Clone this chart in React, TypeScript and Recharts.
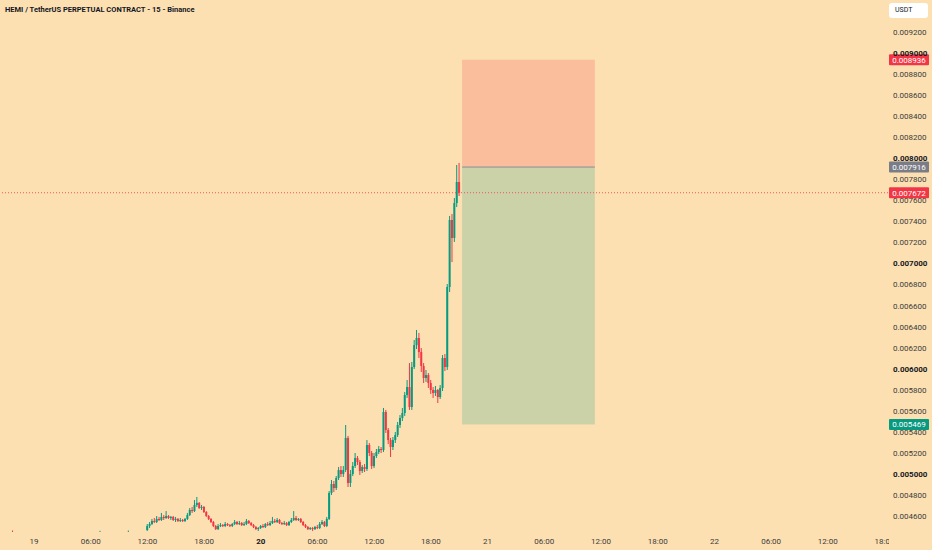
import React from "react";
import { Bar, ComposedChart, ReferenceArea, ReferenceLine, XAxis, YAxis } from "recharts";

// 15m candles from 19th 12:00, prices in millionths of USDT: [open, high, low, close]
const CANDLES: number[][] = [
  [4466, 4523, 4456, 4504], [4504, 4542, 4485, 4523], [4523, 4571, 4513, 4552], [4552, 4580, 4532, 4542],
  [4542, 4599, 4532, 4571], [4571, 4590, 4552, 4561], [4561, 4628, 4552, 4590], [4590, 4608, 4561, 4580],
  [4580, 4646, 4571, 4599], [4599, 4608, 4571, 4580], [4580, 4599, 4561, 4590], [4590, 4599, 4552, 4561],
  [4561, 4590, 4542, 4571], [4571, 4580, 4542, 4552], [4552, 4580, 4542, 4561], [4561, 4571, 4542, 4552],
  [4552, 4580, 4542, 4571], [4571, 4628, 4561, 4608], [4608, 4675, 4599, 4656], [4656, 4685, 4628, 4646],
  [4646, 4751, 4637, 4704], [4704, 4780, 4685, 4723], [4723, 4732, 4666, 4675], [4675, 4704, 4656, 4685],
  [4685, 4694, 4628, 4637], [4637, 4646, 4590, 4599], [4599, 4608, 4561, 4571], [4571, 4580, 4532, 4542],
  [4542, 4552, 4494, 4504], [4504, 4513, 4466, 4475], [4475, 4523, 4466, 4504], [4504, 4532, 4494, 4513],
  [4513, 4523, 4494, 4504], [4504, 4542, 4494, 4523], [4523, 4532, 4504, 4513], [4513, 4523, 4494, 4504],
  [4504, 4532, 4494, 4523], [4523, 4561, 4513, 4542], [4542, 4552, 4513, 4523], [4523, 4552, 4513, 4532],
  [4532, 4542, 4504, 4513], [4513, 4542, 4504, 4523], [4523, 4571, 4513, 4552], [4552, 4561, 4523, 4532],
  [4532, 4542, 4504, 4513], [4513, 4523, 4485, 4494], [4494, 4504, 4466, 4475], [4475, 4494, 4456, 4485],
  [4485, 4513, 4475, 4504], [4504, 4523, 4485, 4494], [4494, 4532, 4485, 4523], [4523, 4542, 4504, 4513],
  [4513, 4552, 4504, 4532], [4532, 4590, 4523, 4552], [4552, 4571, 4532, 4542], [4542, 4580, 4532, 4561],
  [4561, 4571, 4523, 4532], [4532, 4542, 4513, 4523], [4523, 4552, 4513, 4532], [4532, 4542, 4504, 4513],
  [4513, 4552, 4504, 4542], [4542, 4580, 4532, 4561], [4561, 4646, 4552, 4580], [4580, 4599, 4552, 4561],
  [4561, 4580, 4552, 4571], [4571, 4580, 4532, 4542], [4542, 4552, 4504, 4513], [4513, 4523, 4485, 4494],
  [4494, 4504, 4466, 4475], [4475, 4494, 4466, 4485], [4485, 4494, 4456, 4475], [4475, 4504, 4466, 4494],
  [4494, 4513, 4475, 4485], [4485, 4542, 4475, 4523], [4523, 4561, 4513, 4542], [4542, 4552, 4494, 4504],
  [4504, 4590, 4494, 4571], [4571, 4837, 4561, 4818], [4818, 4941, 4799, 4903], [4903, 4932, 4827, 4865],
  [4865, 4979, 4846, 4960], [4960, 5065, 4941, 5036], [5036, 5074, 4970, 4998], [4998, 5074, 4970, 5036],
  [5036, 5464, 5017, 5341], [5341, 5360, 4875, 4913], [4913, 5036, 4875, 4998], [4998, 5112, 4979, 5074],
  [5074, 5198, 5055, 5150], [5150, 5169, 5084, 5112], [5112, 5131, 4989, 5027], [5027, 5084, 5008, 5065],
  [5065, 5093, 5017, 5046], [5046, 5321, 5027, 5274], [5274, 5293, 5169, 5198], [5198, 5217, 5046, 5074],
  [5074, 5198, 5055, 5169], [5169, 5236, 5150, 5207], [5207, 5264, 5188, 5236], [5236, 5255, 5198, 5226],
  [5226, 5626, 5207, 5588], [5588, 5607, 5388, 5417], [5417, 5436, 5283, 5321], [5321, 5341, 5160, 5255],
  [5255, 5350, 5226, 5321], [5321, 5398, 5293, 5369], [5369, 5493, 5350, 5464], [5464, 5559, 5436, 5531],
  [5531, 5626, 5502, 5578], [5578, 5778, 5550, 5749], [5749, 5892, 5721, 5825], [5825, 6053, 5607, 5635],
  [5635, 6063, 5607, 6015], [6015, 6272, 5996, 6224], [6224, 6367, 6186, 6291], [6291, 6339, 6101, 6158],
  [6158, 6196, 5968, 6025], [6025, 6053, 5863, 5911], [5911, 5987, 5873, 5939], [5939, 5958, 5816, 5863],
  [5863, 5892, 5759, 5797], [5797, 5825, 5721, 5768], [5768, 5835, 5740, 5797], [5797, 5806, 5673, 5730],
  [5730, 5844, 5711, 5816], [5816, 6129, 5787, 6101], [6101, 6139, 5977, 6015], [6015, 6804, 5987, 6776],
  [6776, 7451, 6728, 7413], [7413, 7470, 7013, 7242], [7242, 7622, 7204, 7574], [7574, 7936, 7536, 7774],
  [7774, 7955, 7641, 7672],
];
const FIRST_HOUR = 12; // hours since 19th 00:00
const STEP = 0.25;

// a few earlier candles whose tops just reach the bottom edge
const EARLY_HOURS = [-2.25, 7, 10];
const EARLY_CANDLES: number[][] = [
  [4440, 4462, 4400, 4425],
  [4430, 4458, 4410, 4440],
  [4425, 4461, 4405, 4445],
];

const X_TICKS = [0, 6, 12, 18, 24, 30, 36, 42, 48, 54, 60, 66, 72, 78, 84, 90];
const X_LABELS = ["19", "06:00", "12:00", "18:00", "20", "06:00", "12:00", "18:00", "21", "06:00", "12:00", "18:00", "22", "06:00", "12:00", "18:00"];
const X_BOLD = ["20"];

const Y_TICKS = [
  0.0046, 0.0048, 0.005, 0.0052, 0.0054, 0.0056, 0.0058, 0.006, 0.0062, 0.0064, 0.0066, 0.0068,
  0.007, 0.0072, 0.0074, 0.0076, 0.0078, 0.008, 0.0082, 0.0084, 0.0086, 0.0088, 0.009, 0.0092,
];

const STOP = 0.008936;
const ENTRY = 0.007916;
const TARGET = 0.005469;
const LAST = 0.007672;
const BOX_START = 45.3;
const BOX_END = 59.35;

const BG = "#fde0b2";
const UP = "#089981";
const DOWN = "#f23645";
const FONT = "Roboto, 'Liberation Sans', sans-serif";

const toRow = (c: number[], t: number) => ({
  t,
  open: c[0] / 1e6,
  high: c[1] / 1e6,
  low: c[2] / 1e6,
  close: c[3] / 1e6,
  range: [c[2] / 1e6, c[1] / 1e6],
});

const data = [
  ...EARLY_CANDLES.map((c, i) => toRow(c, EARLY_HOURS[i])),
  ...CANDLES.map((c, i) => toRow(c, FIRST_HOUR + i * STEP)),
];

function Candle(props: any) {
  const { x, y, width, height, payload } = props;
  if (x == null || y == null) return null;
  const top = Math.min(y, y + height);
  const h = Math.abs(height);
  const { open, close, high, low } = payload;
  const k = high > low ? h / (high - low) : 0;
  const yo = top + (high - open) * k;
  const yc = top + (high - close) * k;
  const color = close >= open ? UP : DOWN;
  const cx = x + width / 2;
  return (
    <g>
      <line x1={cx} x2={cx} y1={top} y2={top + h} stroke={color} strokeWidth={1} />
      <rect x={x} y={Math.min(yo, yc)} width={width} height={Math.max(1, Math.abs(yo - yc))} fill={color} />
    </g>
  );
}

function TimeTick(props: any) {
  const { x, y, payload, index } = props;
  const label = X_LABELS[X_TICKS.indexOf(payload.value)] ?? "";
  const id = `tclip-${index}`;
  return (
    <g>
      <clipPath id={id}>
        <rect x={0} y={0} width={889} height={550} />
      </clipPath>
      <text
        x={x}
        y={y}
        dy={12}
        textAnchor="middle"
        fontSize={8}
        fontFamily={FONT}
        fontWeight={X_BOLD.includes(label) ? 700 : 400}
        fill={X_BOLD.includes(label) ? "#131722" : "#3b3b3b"}
        clipPath={`url(#${id})`}
      >
        {label}
      </text>
    </g>
  );
}

function PriceTick(props: any) {
  const { x, y, payload } = props;
  const v = payload.value as number;
  const major = Math.abs(v * 1000 - Math.round(v * 1000)) < 1e-6;
  return (
    <text
      x={x}
      y={y}
      dy={3}
      textAnchor="start"
      fontSize={8}
      fontFamily={FONT}
      fontWeight={major ? 700 : 400}
      fill={major ? "#131722" : "#3b3b3b"}
    >
      {v.toFixed(6)}
    </text>
  );
}

const tag = (text: string, bg: string) => (props: any) => {
  const vb = props.viewBox;
  if (!vb) return null;
  const x = vb.x + vb.width + 1;
  const y = vb.y;
  return (
    <g>
      <rect x={x} y={y - 5.5} width={40} height={11} rx={1} fill={bg} />
      <text x={x + 20} y={y + 3} textAnchor="middle" fill="#ffffff" fontSize={8} fontFamily={FONT}>
        {text}
      </text>
    </g>
  );
};

export default function App() {
  return (
    <div style={{ position: "absolute", left: 0, top: 0, width: 932, height: 550, background: BG, fontFamily: FONT }}>
      <ComposedChart width={932} height={550} data={data} margin={{ top: 0, right: 0, bottom: 0, left: 0 }}>
        <XAxis
          dataKey="t"
          type="number"
          domain={[-3.598, 90.37]}
          allowDataOverflow
          ticks={X_TICKS}
          interval={0}
          tick={<TimeTick />}
          tickLine={false}
          axisLine={false}
          tickSize={0}
          tickMargin={0}
          height={18}
        />
        <YAxis
          orientation="right"
          type="number"
          domain={[0.004447, 0.009504]}
          allowDataOverflow
          ticks={Y_TICKS}
          interval={0}
          tick={<PriceTick />}
          tickLine={false}
          axisLine={false}
          tickSize={0}
          tickMargin={5}
          width={44}
        />
        <ReferenceArea x1={BOX_START} x2={BOX_END} y1={ENTRY} y2={STOP} fill={DOWN} fillOpacity={0.2} stroke="none" />
        <ReferenceArea x1={BOX_START} x2={BOX_END} y1={TARGET} y2={ENTRY} fill={UP} fillOpacity={0.2} stroke="none" />
        <ReferenceLine
          segment={[{ x: BOX_START, y: ENTRY }, { x: BOX_END, y: ENTRY }]}
          stroke="#8a8d96"
          strokeWidth={1}
        />
        <Bar dataKey="range" barSize={2} shape={<Candle />} isAnimationActive={false} />
        <ReferenceLine y={LAST} stroke={DOWN} strokeOpacity={0.8} strokeDasharray="1 2" strokeWidth={1} label={tag(LAST.toFixed(6), DOWN)} />
        <ReferenceLine y={STOP} stroke="none" strokeOpacity={0} label={tag(STOP.toFixed(6), DOWN)} />
        <ReferenceLine y={ENTRY} stroke="none" strokeOpacity={0} label={tag(ENTRY.toFixed(6), "#7a7d86")} />
        <ReferenceLine y={TARGET} stroke="none" strokeOpacity={0} label={tag(TARGET.toFixed(6), UP)} />
      </ComposedChart>
      <div
        style={{
          position: "absolute",
          left: 5,
          top: 5,
          fontSize: 7.5,
          fontWeight: 700,
          color: "#131722",
          whiteSpace: "nowrap",
        }}
      >
        HEMI / TetherUS PERPETUAL CONTRACT - 15 - Binance
      </div>
      <div
        style={{
          position: "absolute",
          left: 889,
          top: 3,
          width: 39,
          height: 15,
          background: "#ffffff",
          borderRadius: 3,
          fontSize: 7,
          lineHeight: "15px",
          color: "#131722",
          paddingLeft: 6,
          boxSizing: "border-box",
        }}
      >
        USDT
      </div>
    </div>
  );
}
